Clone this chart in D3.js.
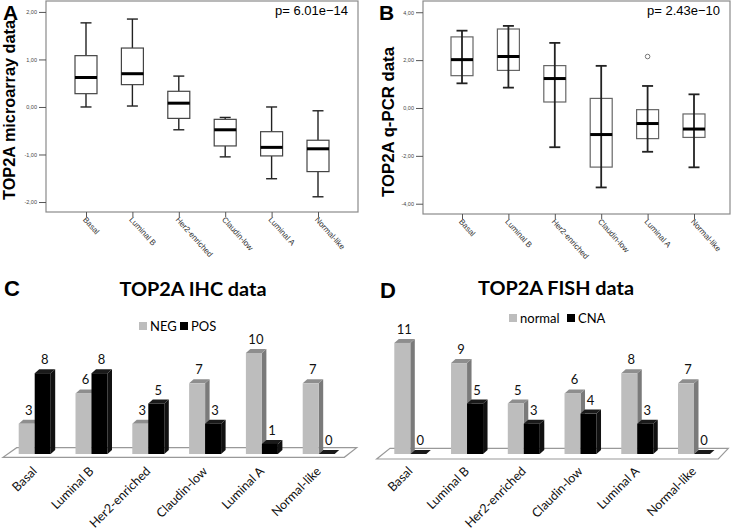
<!DOCTYPE html>
<html>
<head>
<meta charset="utf-8">
<script src="https://cdn.jsdelivr.net/npm/d3@7"></script>
<style>
  body { margin: 0; background: #fff; }
  svg { display: block; }
</style>
</head>
<body>
<div class="chart"></div>
<script>
// subtypes shared by all four panels
var subtypes = ["Basal", "Luminal B", "Her2-enriched", "Claudin-low", "Luminal A", "Normal-like"];

// A: microarray boxplot (min, q1, median, q3, max)
var arrayMin = [0.00, 0.02, -0.48, -1.05, -1.51, -1.89];
var arrayQ1  = [0.28, 0.47, -0.24, -0.82, -1.03, -1.36];
var arrayMed = [0.62, 0.70, 0.08, -0.48, -0.85, -0.88];
var arrayQ3  = [1.08, 1.24, 0.33, -0.26, -0.52, -0.70];
var arrayMax = [1.77, 1.85, 0.65, -0.22, 0.00, -0.08];
var arrayTicks = [-2, -1, 0, 1, 2];

// B: q-PCR boxplot
var pcrMin = [1.03, 0.85, -1.64, -3.32, -1.83, -2.48];
var pcrQ1  = [1.35, 1.57, 0.25, -2.47, -1.28, -1.23];
var pcrMed = [2.02, 2.15, 1.23, -1.11, -0.65, -0.88];
var pcrQ3  = [2.97, 3.30, 1.77, 0.40, -0.07, -0.25];
var pcrMax = [3.23, 3.43, 2.72, 1.76, 0.92, 0.57];
var pcrOutliers = [{ group: "Luminal A", value: 2.15 }];
var pcrTicks = [-4, -2, 0, 2, 4];

// C: IHC counts
var ihcNeg = [3, 6, 3, 7, 10, 7];
var ihcPos = [8, 8, 5, 3, 1, 0];

// D: FISH counts
var fishNormal = [11, 9, 5, 6, 8, 7];
var fishCna = [0, 5, 3, 4, 3, 0];

var svg = d3.select(".chart").append("svg")
  .attr("width", 734)
  .attr("height", 532);

var commaFmt = function(v) { return d3.format(".2f")(v).replace(".", ",").replace("\u2212", "-"); };

// ---------- box plots ----------
function boxPanel(opt) {
  var g = svg.append("g");

  var y = d3.scaleLinear().domain(opt.domain).range([opt.bottom, opt.top]);
  var x = d3.scalePoint().domain(subtypes).range(opt.xRange);

  // frame
  g.append("rect")
    .attr("x", opt.left).attr("y", opt.top)
    .attr("width", opt.right - opt.left).attr("height", opt.bottom - opt.top)
    .attr("fill", "#fff").attr("stroke", "#8a8a8a").attr("stroke-width", 1.2);

  // y axis
  var yAxis = g.append("g")
    .attr("transform", `translate(${opt.left}, 0)`)
    .call(d3.axisLeft(y).tickValues(opt.ticks).tickSize(7).tickFormat(commaFmt));
  yAxis.select(".domain").remove();
  yAxis.selectAll("line").attr("stroke", "#555");
  yAxis.selectAll("text")
    .attr("font-family", "Liberation Sans, Arial, sans-serif")
    .attr("font-size", 5.5).attr("fill", "#444").attr("x", -9);

  // x axis
  var xAxis = g.append("g")
    .attr("transform", `translate(0, ${opt.bottom})`)
    .call(d3.axisBottom(x).tickSize(5));
  xAxis.select(".domain").remove();
  xAxis.selectAll("line").attr("stroke", "#555");
  xAxis.selectAll("text")
    .attr("font-family", "Liberation Sans, Arial, sans-serif")
    .attr("font-size", 8).attr("fill", "#333")
    .attr("text-anchor", "start")
    .attr("transform", "translate(-2, 6) rotate(48)")
    .attr("x", 0).attr("y", 0).attr("dy", "0.35em");

  var rows = subtypes.map(function(s, i) {
    return { name: s, min: opt.min[i], q1: opt.q1[i], med: opt.med[i], q3: opt.q3[i], max: opt.max[i] };
  });

  var bw = 22, cap = 11;
  var boxes = g.selectAll(".box").data(rows).enter().append("g").attr("class", "box");

  // whiskers
  if (opt.throughBox) {
    boxes.append("rect")
      .attr("x", d => x(d.name) - bw / 2).attr("y", d => y(d.q3))
      .attr("width", bw).attr("height", d => y(d.q1) - y(d.q3))
      .attr("fill", "#fff").attr("stroke", opt.boxStroke).attr("stroke-width", 1.2);
    boxes.append("line")
      .attr("x1", d => x(d.name)).attr("x2", d => x(d.name))
      .attr("y1", d => y(d.max)).attr("y2", d => y(d.min))
      .attr("stroke", "#222").attr("stroke-width", opt.whiskerWidth);
  } else {
    boxes.append("line")
      .attr("x1", d => x(d.name)).attr("x2", d => x(d.name))
      .attr("y1", d => y(d.max)).attr("y2", d => y(d.q3))
      .attr("stroke", "#222").attr("stroke-width", opt.whiskerWidth);
    boxes.append("line")
      .attr("x1", d => x(d.name)).attr("x2", d => x(d.name))
      .attr("y1", d => y(d.q1)).attr("y2", d => y(d.min))
      .attr("stroke", "#222").attr("stroke-width", opt.whiskerWidth);
    boxes.append("rect")
      .attr("x", d => x(d.name) - bw / 2).attr("y", d => y(d.q3))
      .attr("width", bw).attr("height", d => y(d.q1) - y(d.q3))
      .attr("fill", "#fff").attr("stroke", opt.boxStroke).attr("stroke-width", 1.2);
  }
  ["min", "max"].forEach(function(k) {
    boxes.append("line")
      .attr("x1", d => x(d.name) - cap / 2).attr("x2", d => x(d.name) + cap / 2)
      .attr("y1", d => y(d[k])).attr("y2", d => y(d[k]))
      .attr("stroke", "#222").attr("stroke-width", opt.whiskerWidth);
  });
  // medians
  boxes.append("line")
    .attr("x1", d => x(d.name) - bw / 2).attr("x2", d => x(d.name) + bw / 2)
    .attr("y1", d => y(d.med)).attr("y2", d => y(d.med))
    .attr("stroke", "#000").attr("stroke-width", 3);

  // outliers
  g.selectAll(".outlier").data(opt.outliers || []).enter().append("circle")
    .attr("cx", d => x(d.group)).attr("cy", d => y(d.value)).attr("r", 2.3)
    .attr("fill", "#fff").attr("stroke", "#777").attr("stroke-width", 1);

  // p-value
  g.append("text")
    .attr("x", opt.right - 10).attr("y", opt.top + 14)
    .attr("text-anchor", "end")
    .attr("font-family", "Liberation Sans, Arial, sans-serif").attr("font-size", 13)
    .text(opt.pval);

  // y label
  g.append("text")
    .attr("transform", `translate(${opt.labelX}, ${opt.labelY}) rotate(-90)`)
    .attr("text-anchor", "middle")
    .attr("font-family", "Liberation Sans, Arial, sans-serif").attr("font-weight", "bold")
    .attr("font-size", opt.labelSize)
    .attr("textLength", opt.labelLength).attr("lengthAdjust", "spacingAndGlyphs")
    .text(opt.label);

  // panel letter
  g.append("text")
    .attr("x", opt.letterX).attr("y", 19.5)
    .attr("font-family", "Liberation Sans, Arial, sans-serif").attr("font-weight", "bold")
    .attr("font-size", 21)
    .text(opt.letter);
}

boxPanel({
  letter: "A", letterX: 3, left: 46, right: 358, top: 1, bottom: 212,
  domain: [-2.21, 2.23], xRange: [86, 318], ticks: arrayTicks,
  min: arrayMin, q1: arrayQ1, med: arrayMed, q3: arrayQ3, max: arrayMax,
  throughBox: false, whiskerWidth: 1.4, boxStroke: "#444",
  pval: "p= 6.01e\u221214", label: "TOP2A microarray data",
  labelX: 15, labelY: 110, labelSize: 16, labelLength: 180
});

boxPanel({
  letter: "B", letterX: 379, left: 423, right: 730, top: 1, bottom: 214,
  domain: [-4.43, 4.47], xRange: [462, 694], ticks: pcrTicks,
  min: pcrMin, q1: pcrQ1, med: pcrMed, q3: pcrQ3, max: pcrMax, outliers: pcrOutliers,
  throughBox: true, whiskerWidth: 1.8, boxStroke: "#666",
  pval: "p= 2.43e\u221210", label: "TOP2A q-PCR data",
  labelX: 393.5, labelY: 122, labelSize: 16.7, labelLength: 150
});

// ---------- 3D bar charts ----------
function barPanel(opt) {
  var g = svg.append("g");
  var font = "Lato, Carlito, Calibri, sans-serif";
  var y = d3.scaleLinear().domain([0, 12]).range([opt.base, opt.base - 121.2]);
  var x = d3.scalePoint().domain(subtypes).range(opt.xRange);
  var bw = 16, dx = 4.5, dy = -4;

  // floor
  g.append("path")
    .attr("d", `M${opt.floor[0]},${opt.floorTop} L${opt.floor[1]},${opt.floorTop} L${opt.floor[2]},${opt.floorBottom} L${opt.floor[3]},${opt.floorBottom} Z`)
    .attr("fill", "#fff").attr("stroke", "#999").attr("stroke-width", 1.2);

  var series = [
    { name: opt.names[0], values: opt.values[0], off: -bw, front: "#bdbdbd", side: "#7a7a7a", top: "#8e8e8e" },
    { name: opt.names[1], values: opt.values[1], off: 0, front: "#000", side: "#111", top: "#1a1a1a" }
  ];

  subtypes.forEach(function(s, i) {
    series.forEach(function(se) {
      var v = se.values[i];
      var x0 = x(s) + se.off, x1 = x0 + bw;
      var yt = y(v), yb = opt.base;
      // side face
      g.append("path")
        .attr("d", `M${x1},${yb} L${x1 + dx},${yb + dy} L${x1 + dx},${yt + dy} L${x1},${yt} Z`)
        .attr("fill", se.side);
      // top face
      g.append("path")
        .attr("d", `M${x0},${yt} L${x0 + dx},${yt + dy} L${x1 + dx},${yt + dy} L${x1},${yt} Z`)
        .attr("fill", se.top);
      // front face
      g.append("rect")
        .attr("x", x0).attr("y", yt).attr("width", bw).attr("height", yb - yt)
        .attr("fill", se.front);
      // value label
      g.append("text")
        .attr("x", x0 + bw / 2 + 2).attr("y", yt + dy - 5)
        .attr("text-anchor", "middle")
        .attr("font-family", font).attr("font-size", 13).attr("fill", "#111")
        .text(v);
    });
  });

  // category labels
  g.selectAll(".cat").data(subtypes).enter().append("text")
    .attr("transform", d => `translate(${x(d) + 3}, ${opt.base + 18}) rotate(-45)`)
    .attr("text-anchor", "end")
    .attr("font-family", font).attr("font-size", 12.5).attr("fill", "#111")
    .text(d => d);

  // title
  g.append("text")
    .attr("x", opt.titleX).attr("y", opt.titleY)
    .attr("text-anchor", "middle")
    .attr("font-family", font).attr("font-weight", "bold").attr("font-size", 19)
    .attr("textLength", opt.titleLength).attr("lengthAdjust", "spacingAndGlyphs")
    .text(opt.title);

  // legend
  var lg = g.append("g").attr("transform", `translate(${opt.legendX}, ${opt.legendY})`);
  lg.append("rect").attr("x", 0).attr("y", -4).attr("width", 8).attr("height", 8).attr("fill", "#bdbdbd");
  lg.append("text").attr("x", 11).attr("y", 4.5)
    .attr("font-family", font).attr("font-size", 13).text(opt.names[0]);
  lg.append("rect").attr("x", opt.legendGap).attr("y", -4).attr("width", 8).attr("height", 8).attr("fill", "#000");
  lg.append("text").attr("x", opt.legendGap + 11).attr("y", 4.5)
    .attr("font-family", font).attr("font-size", 13).text(opt.names[1]);

  // panel letter
  g.append("text")
    .attr("x", opt.letterX).attr("y", opt.letterY)
    .attr("font-family", "Liberation Sans, Arial, sans-serif").attr("font-weight", "bold")
    .attr("font-size", 22)
    .text(opt.letter);
}

barPanel({
  letter: "C", letterX: 4, letterY: 296,
  title: "TOP2A IHC data", titleX: 193, titleY: 296, titleLength: 147,
  names: ["NEG", "POS"], values: [ihcNeg, ihcPos],
  legendX: 139, legendY: 326, legendGap: 41,
  base: 454, xRange: [34.7, 318.7],
  floor: [16.7, 356.7, 344.3, 3], floorTop: 447.7, floorBottom: 457.3
});

barPanel({
  letter: "D", letterX: 380, letterY: 298,
  title: "TOP2A FISH data", titleX: 556, titleY: 295, titleLength: 156,
  names: ["normal", "CNA"], values: [fishNormal, fishCna],
  legendX: 509, legendY: 318, legendGap: 58,
  base: 454, xRange: [410.3, 694],
  floor: [390, 728.3, 718.3, 376.7], floorTop: 448.3, floorBottom: 459
});
</script>
</body>
</html>
